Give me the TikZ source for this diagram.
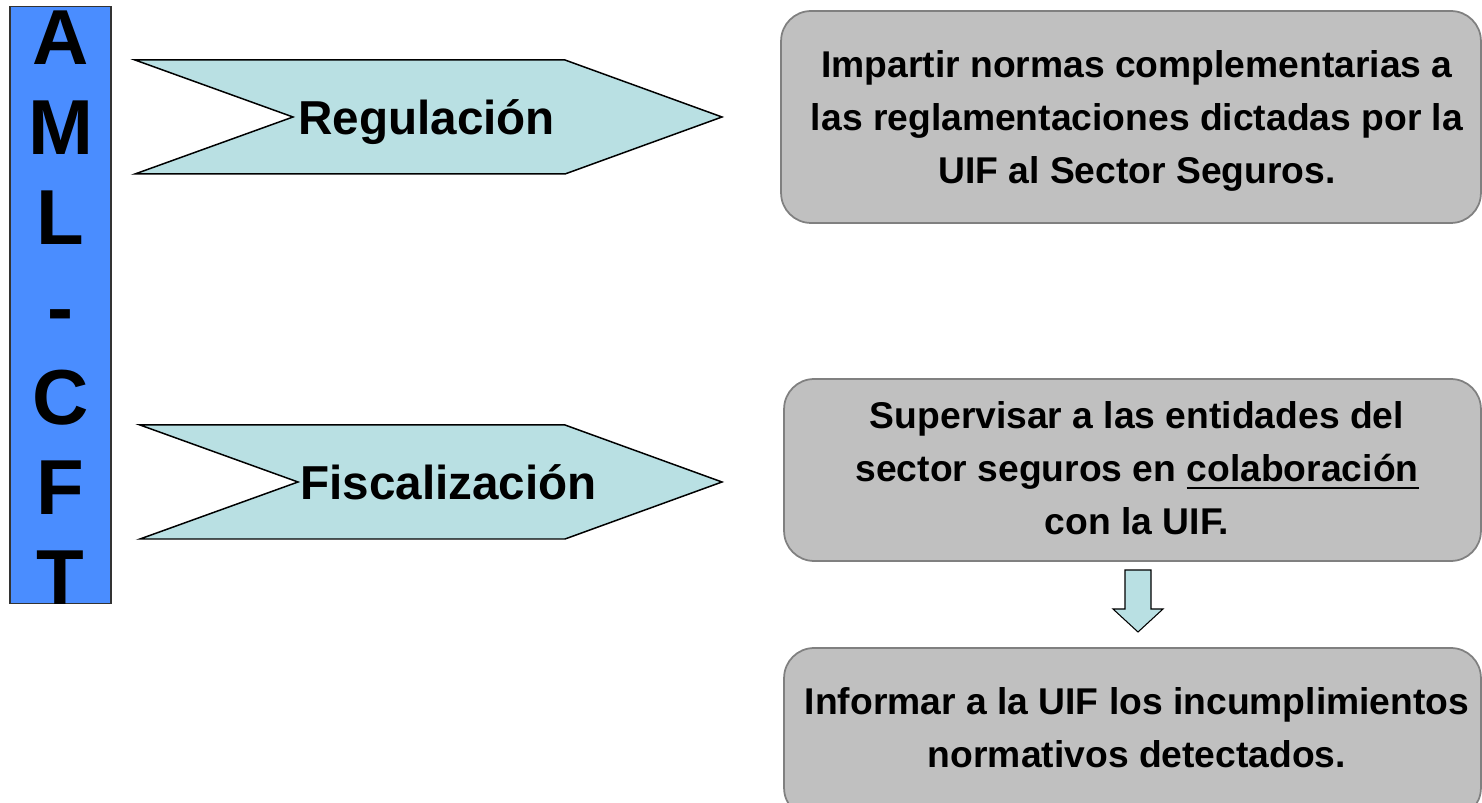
\documentclass[tikz,border=0pt]{standalone}
\usepackage{fontspec}
\setmainfont{Liberation Sans}
\definecolor{azulBarra}{RGB}{74,141,255}
\definecolor{celeste}{RGB}{185,224,227}
\definecolor{grisCaja}{RGB}{192,192,192}
\definecolor{grisBorde}{RGB}{128,128,128}
\newcommand{\subrayar}[1]{\setbox0\hbox{#1}\rlap{\rule[-4.4pt]{\wd0}{1.1pt}}\box0}

\begin{document}
\begin{tikzpicture}[x=0.02cm,y=-0.02cm,
    letra/.style={anchor=base,inner sep=0pt,font=\fontsize{44.4}{51}\selectfont\bfseries},
    chevron/.style={draw=black,line width=0.85pt,fill=celeste,line join=miter},
    etiqueta/.style={anchor=base west,inner sep=0pt,font=\fontsize{27.1}{32}\selectfont\bfseries},
    caja/.style={draw=grisBorde,line width=1pt,fill=grisCaja,rounded corners=0.6cm},
    texto/.style={anchor=base,inner sep=0pt,align=center,font=\fontsize{21.2}{30.4}\selectfont\bfseries}]
    \useasboundingbox (0,0) rectangle (1482,803);
    \clip (0,0) rectangle (1482,803);

    \node[draw=black!80,line width=0.6pt,fill=azulBarra,minimum width=2.02cm,minimum height=11.96cm,inner sep=0pt] (barra) at (60.5,305) {};
    \foreach \l [count=\i] in {A,M,L,-,C,F,T}
        \node[letra] (letra\i) at (60.5,{65+90*(\i-1)}) {\l};

    \draw[chevron] (135,60) -- (565,60) -- (722,117) -- (565,174) -- (135,174) -- (293,117) -- cycle;
    \node[etiqueta] (regulacion) at (298,135) {Regulación};
    \draw[chevron] (140,425) -- (565,425) -- (722,482) -- (565,539) -- (140,539) -- (298,482) -- cycle;
    \node[etiqueta] (fiscalizacion) at (300,500) {Fiscalización};

    \node[caja,minimum width=14cm,minimum height=4.24cm] (impartir) at (1131,117) {};
    \node[texto] (impartirtxt) at (1137,184) {Impartir normas complementarias a\\las reglamentaciones dictadas por la\\UIF al Sector Seguros.};
    \node[caja,minimum width=13.94cm,minimum height=3.64cm] (supervisar) at (1132.5,470) {};
    \node[texto] (supervisartxt) at (1137,535) {Supervisar a las entidades del\\sector seguros en \subrayar{colaboración}\\con la UIF.};
    \node[caja,minimum width=13.94cm,minimum height=3.4cm] (informar) at (1132.5,733) {};
    \node[texto] (informartxt) at (1137,768) {Informar a la UIF los incumplimientos\\normativos detectados.};

    \draw[chevron,line width=0.6pt] (1125,570) -- (1151,570) -- (1151,609) -- (1163,609) -- (1138,632) -- (1113,609) -- (1125,609) -- cycle;
\end{tikzpicture}
\end{document}
